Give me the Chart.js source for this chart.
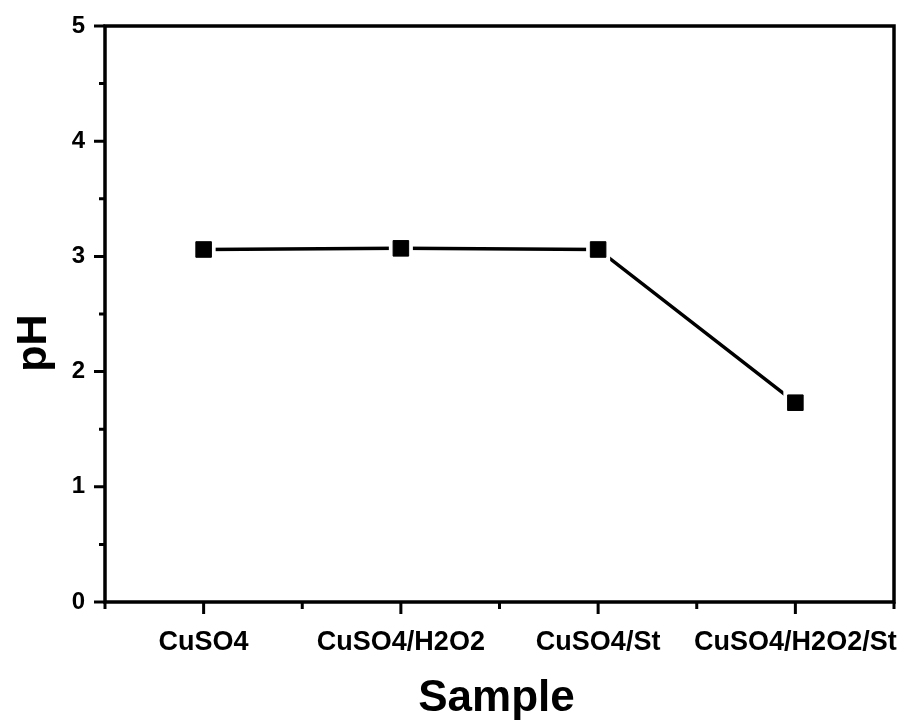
<!DOCTYPE html>
<html>
<head>
<meta charset="utf-8">
<script src="https://cdn.jsdelivr.net/npm/chart.js@4/dist/chart.umd.min.js"></script>
<style>
  html, body { margin: 0; padding: 0; background: #fff; }
  #wrap { width: 907px; height: 720px; }
</style>
</head>
<body>
<div id="wrap"><canvas id="ph-chart" width="907" height="720"></canvas></div>
<script>
// pH of each sample
const categories = ['CuSO4', 'CuSO4/H2O2', 'CuSO4/St', 'CuSO4/H2O2/St'];
const positions = [1, 2, 3, 4];
const phValues = [3.06, 3.07, 3.06, 1.73];
const yTicks = [0, 1, 2, 3, 4, 5];

const FONT = "'Liberation Sans', Arial, sans-serif";

const points = positions.map((x, i) => ({ x: x, y: phValues[i] }));

// frame, tick marks and axis titles, Origin style
const framePlugin = {
    id: 'frame',
    afterDraw(chart) {
        const ctx = chart.ctx;
        const a = chart.chartArea;
        const xs = chart.scales.x;
        const ys = chart.scales.y;
        ctx.save();
        ctx.strokeStyle = '#000';
        ctx.lineWidth = 3.5;
        ctx.strokeRect(a.left, a.top, a.right - a.left, a.bottom - a.top);

        ctx.lineWidth = 3;
        ctx.beginPath();
        for (let v = 0; v <= 5.001; v += 0.5) {
            const py = ys.getPixelForValue(v);
            const len = Number.isInteger(v) ? 11 : 6;
            ctx.moveTo(a.left, py);
            ctx.lineTo(a.left - len, py);
        }
        for (let v = 0.5; v <= 4.501; v += 0.5) {
            const px = xs.getPixelForValue(v);
            const len = Number.isInteger(v) ? 12 : 7;
            ctx.moveTo(px, a.bottom);
            ctx.lineTo(px, a.bottom + len);
        }
        ctx.stroke();

        ctx.fillStyle = '#000';
        ctx.textAlign = 'center';
        ctx.textBaseline = 'alphabetic';
        ctx.font = 'bold 44px ' + FONT;
        ctx.fillText('Sample', (a.left + a.right) / 2 - 3, 711);

        ctx.translate(34, 343);
        ctx.rotate(-Math.PI / 2);
        ctx.textBaseline = 'middle';
        ctx.font = 'bold 43px ' + FONT;
        ctx.fillText('pH', 0, 0);
        ctx.restore();
    }
};

new Chart(document.getElementById('ph-chart'), {
    type: 'line',
    data: {
        datasets: [
            {
                // markers on top
                data: points,
                showLine: false,
                pointStyle: 'rect',
                pointRadius: 11,
                pointBackgroundColor: '#000',
                pointBorderColor: '#000',
                pointBorderWidth: 1,
                order: 0
            },
            {
                // connecting line, broken around each marker
                data: points,
                borderColor: '#000',
                borderWidth: 3.5,
                tension: 0,
                pointStyle: 'rect',
                pointRadius: 17,
                pointBackgroundColor: '#fff',
                pointBorderWidth: 0,
                order: 1
            }
        ]
    },
    options: {
        responsive: false,
        animation: false,
        layout: {
            autoPadding: false,
            padding: { top: 26, right: 13, left: 0, bottom: 0 }
        },
        plugins: {
            legend: { display: false },
            tooltip: { enabled: false }
        },
        scales: {
            x: {
                type: 'linear',
                min: 0.5,
                max: 4.5,
                afterBuildTicks: (scale) => {
                    scale.ticks = positions.map(v => ({ value: v }));
                },
                afterFit: (scale) => {
                    scale.height = 118;
                    scale.paddingLeft = 0;
                    scale.paddingRight = 0;
                },
                grid: { display: false },
                border: { display: false },
                ticks: {
                    autoSkip: false,
                    maxRotation: 0,
                    padding: 16,
                    color: '#000',
                    font: { family: FONT, size: 27, weight: 'bold' },
                    callback: (v) => categories[v - 1]
                }
            },
            y: {
                min: 0,
                max: 5,
                afterBuildTicks: (scale) => {
                    scale.ticks = yTicks.map(v => ({ value: v }));
                },
                afterFit: (scale) => {
                    scale.width = 105;
                    scale.paddingTop = 0;
                    scale.paddingBottom = 0;
                },
                grid: { display: false },
                border: { display: false },
                ticks: {
                    padding: 12,
                    color: '#000',
                    font: { family: FONT, size: 24, weight: 'bold' }
                }
            }
        }
    },
    plugins: [framePlugin]
});
</script>
</body>
</html>
